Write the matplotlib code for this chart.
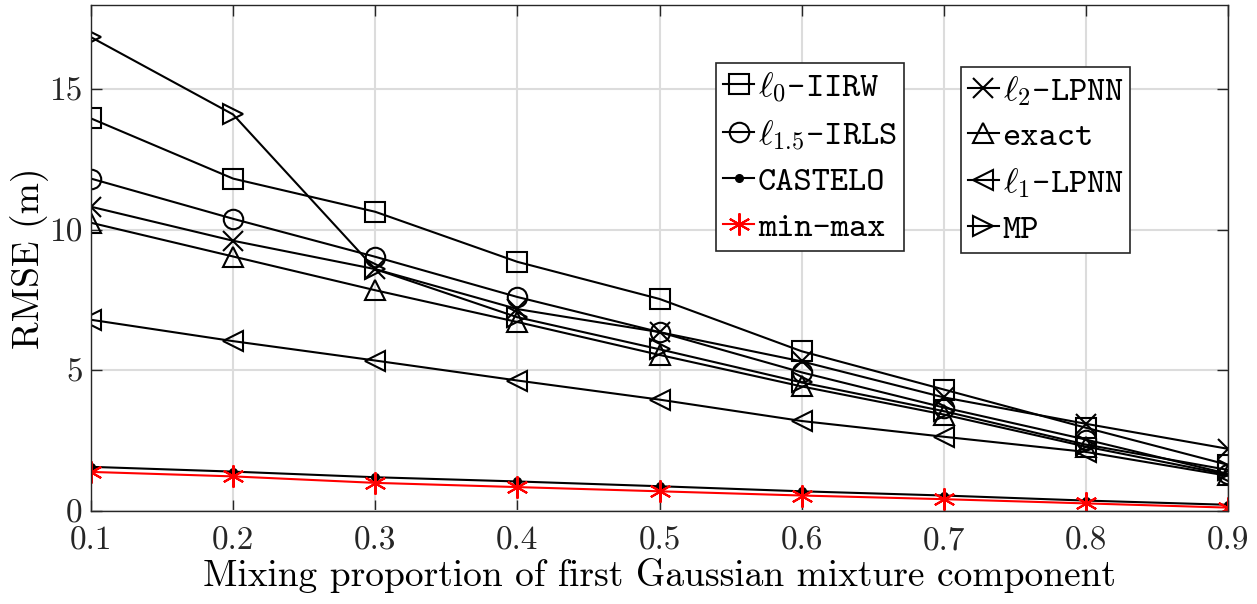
import matplotlib
matplotlib.use("Agg")
import matplotlib.pyplot as plt
import numpy as np

mix = [0.1, 0.2, 0.3, 0.4, 0.5, 0.6, 0.7, 0.8, 0.9]

iirw = [13.96, 11.82, 10.64, 8.86, 7.54, 5.68, 4.32, 2.96, 1.64]
irls = [11.82, 10.39, 9.04, 7.61, 6.36, 4.93, 3.68, 2.54, 1.32]
castelo = [1.57, 1.40, 1.20, 1.05, 0.88, 0.70, 0.55, 0.37, 0.22]
minmax = [1.39, 1.23, 1.00, 0.85, 0.70, 0.55, 0.42, 0.27, 0.12]
l2_lpnn = [10.82, 9.61, 8.60, 7.18, 6.36, 5.32, 4.04, 3.10, 2.21]
exact = [10.25, 9.05, 7.85, 6.72, 5.55, 4.43, 3.43, 2.29, 1.29]
l1_lpnn = [6.80, 6.04, 5.35, 4.64, 3.96, 3.20, 2.64, 2.10, 1.25]
mp = [16.85, 14.10, 8.60, 6.89, 5.75, 4.57, 3.55, 2.36, 1.46]

# LaTeX-like look: computer modern fonts shipped with matplotlib
plt.rcParams['font.family'] = 'cmr10'
plt.rcParams['mathtext.fontset'] = 'cm'
plt.rcParams['axes.formatter.use_mathtext'] = True

fig = plt.figure(figsize=(12.57, 6.04), dpi=100)
ax = fig.add_axes([0.0724, 0.154, 0.9046, 0.838])

asterisk = (6, 2, 0)
kw = dict(color='k', lw=1.5, mfc='none', mew=1.5, ms=14)
h1 = ax.plot(mix, iirw, marker='s', label=r'$\ell_0$-IIRW', **kw)[0]
h2 = ax.plot(mix, irls, marker='o', label=r'$\ell_{1.5}$-IRLS', **kw)[0]
h3 = ax.plot(mix, castelo, marker='.', color='k', lw=1.5, ms=11, label='CASTELO')[0]
h4 = ax.plot(mix, minmax, marker=asterisk, color='r', lw=1.5, mew=1.5, ms=16, label='min-max')[0]
h5 = ax.plot(mix, l2_lpnn, marker='x', label=r'$\ell_2$-LPNN', **kw)[0]
h6 = ax.plot(mix, exact, marker='^', label='exact', **kw)[0]
h7 = ax.plot(mix, l1_lpnn, marker='<', label=r'$\ell_1$-LPNN', **kw)[0]
h8 = ax.plot(mix, mp, marker='>', label='MP', **kw)[0]

ax.set_xlim(0.1, 0.9)
ax.set_ylim(0, 18)
ax.set_xticks(mix)
ax.set_xticklabels([f'{v:.1f}' for v in mix])
ax.set_yticks([0, 5, 10, 15])
ax.set_yticklabels(['0', '5', '10', '15'])
ax.grid(True, color='#dcdcdc', lw=1.5)
ax.set_axisbelow(True)
ax.tick_params(direction='in', length=8, width=1, labelsize=24, colors='#262626', top=True, right=True)
ax.tick_params(axis='x', pad=11.5)
ax.tick_params(axis='y', pad=6)
for s in ax.spines.values():
    s.set_color('#262626')
    s.set_linewidth(1)
ax.set_xlabel('Mixing proportion of first Gaussian mixture component', fontsize=27, labelpad=1.5)
ax.set_ylabel('RMSE (m)', fontsize=27, labelpad=0)

legkw = dict(prop={'family': 'cmtt10', 'size': 25}, frameon=True, fancybox=False,
             edgecolor='#262626', framealpha=1, handlelength=0.9, handletextpad=0.1,
             labelspacing=0.38, borderpad=0.2, borderaxespad=0)
leg1 = ax.legend(handles=[h1, h2, h3, h4], loc='upper left', bbox_to_anchor=(0.5497, 0.885), **legkw)
ax.add_artist(leg1)
leg2 = ax.legend(handles=[h5, h6, h7, h8], loc='upper left', bbox_to_anchor=(0.765, 0.877), **legkw)
for lg in (leg1, leg2):
    lg.get_frame().set_linewidth(1.2)

fig.savefig('out.png', dpi=100)
